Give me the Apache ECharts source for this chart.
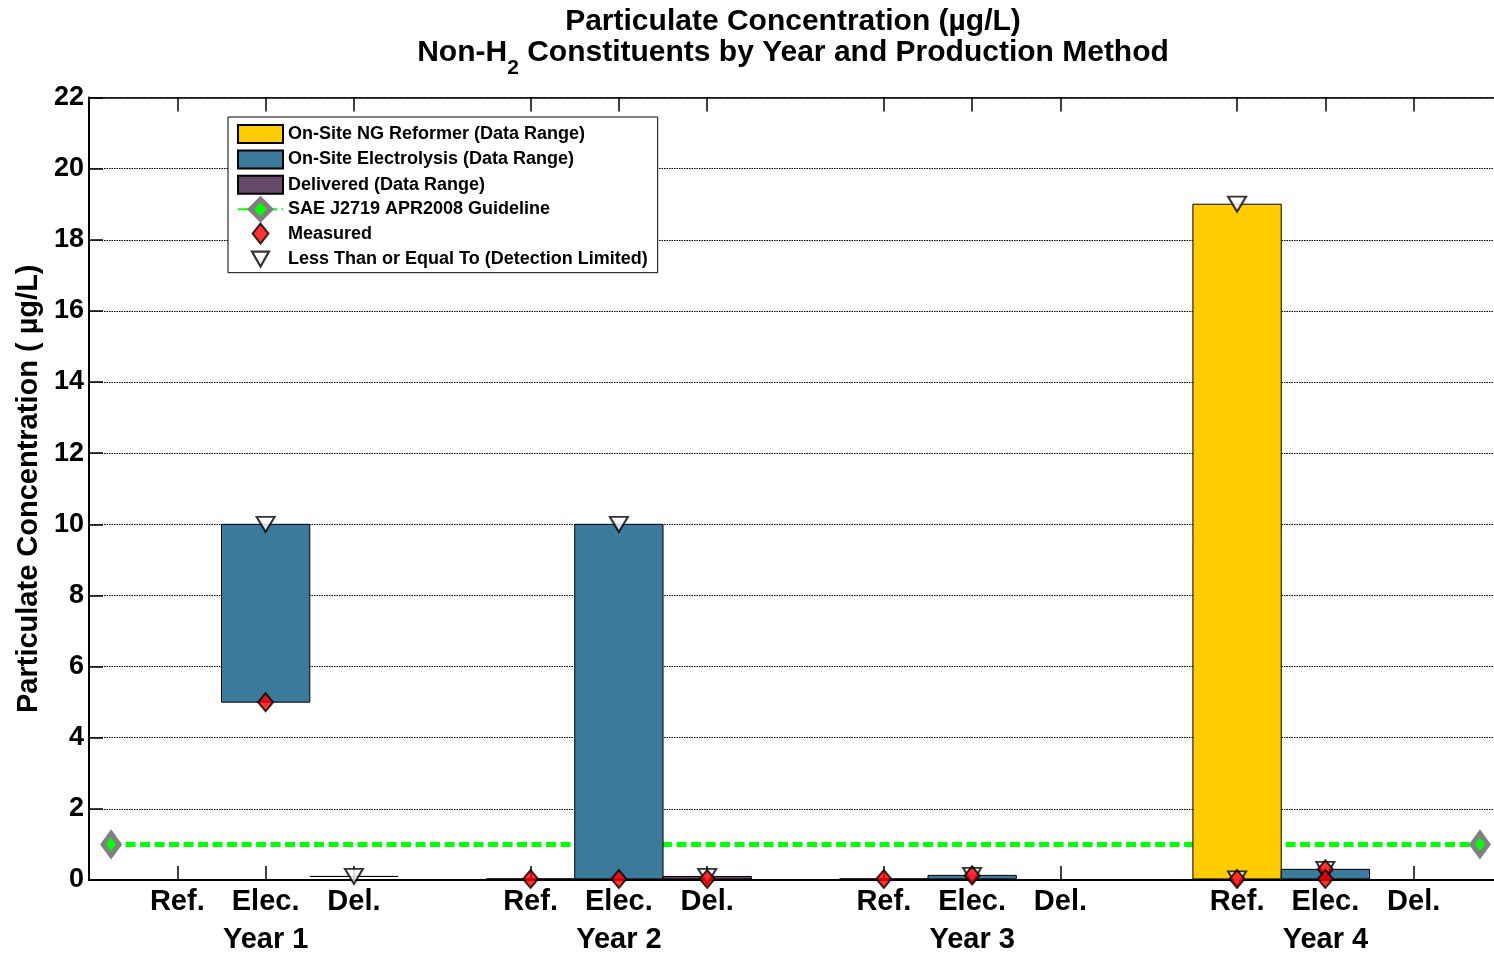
<!DOCTYPE html>
<html>
<head>
<meta charset="utf-8">
<script src="https://cdn.jsdelivr.net/npm/echarts@6/dist/echarts.min.js"></script>
<style>
html,body{margin:0;padding:0;background:#fff;}
#chart{width:1494px;height:957px;}
</style>
</head>
<body>
<div id="chart"></div>
<script>
// ---- data ----
const methodLabels = ['Ref.', 'Elec.', 'Del.'];
const yearLabels = ['Year 1', 'Year 2', 'Year 3', 'Year 4'];
const yMin = 0, yMax = 22, yStep = 2;

// data ranges [low, high] per year (null = no data)
const reformerRange = [null, [0.03, 0.03], [0.03, 0.03], [0.03, 19]];
const electrolysisRange = [[5, 10], [0.03, 10], [0.03, 0.13], [0.03, 0.3]];
const deliveredRange = [[0.1, 0.1], [0.03, 0.1], null, null];

// points: [yearIndex, methodIndex, value]
const measuredPts = [[0, 1, 5], [1, 0, 0.03], [1, 1, 0.03], [1, 2, 0.03], [2, 0, 0.03], [2, 1, 0.13], [3, 0, 0.03], [3, 1, 0.3], [3, 1, 0.03]];
const lessThanPts = [[0, 1, 10], [0, 2, 0.1], [1, 1, 10], [1, 2, 0.1], [2, 1, 0.13], [3, 0, 19], [3, 0, 0.03], [3, 1, 0.3]];

const guidelineValue = 1;
const guidelineSpan = [0.25, 15.75];

const seriesNames = ['On-Site NG Reformer (Data Range)', 'On-Site Electrolysis (Data Range)', 'Delivered (Data Range)',
  'SAE J2719 APR2008 Guideline', 'Measured', 'Less Than or Equal To (Detection Limited)'];

// ---- build ----
const pos = (y, m) => y * 4 + m + 1;
const tickPos = [];
const tickText = {};
yearLabels.forEach((yl, y) => methodLabels.forEach((ml, m) => {
  const p = pos(y, m);
  tickPos.push(p);
  tickText[p] = m === 1 ? ml + '\n' + yl : ml;
}));

function rangeData(arr, m) {
  const out = [];
  arr.forEach((r, y) => { if (r) out.push([pos(y, m), r[0], r[1]]); });
  return out;
}
function ptData(arr) { return arr.map(p => [pos(p[0], p[1]), p[2]]); }

function renderBar(params, api) {
  const x = api.value(0), lo = api.value(1), hi = api.value(2);
  const p1 = api.coord([x - 0.5, hi]);
  const p2 = api.coord([x + 0.5, lo]);
  return {
    type: 'rect',
    shape: { x: p1[0], y: p1[1], width: p2[0] - p1[0], height: p2[1] - p1[1] },
    style: api.style({ stroke: '#000', lineWidth: 1 })
  };
}

const FONT = 'Liberation Sans, Arial, sans-serif';
const colors = ['#FFCC00', '#3B7A9B', '#674A68'];

// legend icon shapes (padded to the legend item box)
const rectIcon = 'path://M0,0M45,25M0,3.5h45v18h-45z';
const diamondIcon = 'path://M0,0M16,25M8,2.5L16,12.5L8,22.5L0,12.5Z';
const triIcon = 'path://M0,0M17,25M0,5L17,5L8.5,20Z';

const chart = echarts.init(document.getElementById('chart'));
chart.setOption({
  animation: false,
  backgroundColor: '#fff',
  textStyle: { fontFamily: FONT },
  title: [
    { text: 'Particulate Concentration (µg/L)', left: 793, top: 7, padding: 0, textAlign: 'center',
      textStyle: { fontFamily: FONT, fontSize: 30, fontWeight: 'bold', color: '#000' } },
    { text: '{b|Non-H}{s|2}{b| Constituents by Year and Production Method}', left: 793, top: 26, padding: 0, textAlign: 'center',
      textStyle: { fontFamily: FONT, fontSize: 30, fontWeight: 'bold', color: '#000',
        rich: {
          b: { fontFamily: FONT, fontSize: 30, fontWeight: 'bold', color: '#000' },
          s: { fontFamily: FONT, fontSize: 21, fontWeight: 'bold', color: '#000', padding: [32, 0, 0, 0] }
        } } }
  ],
  legend: {
    orient: 'vertical', left: 228, top: 117,
    padding: [3.5, 10, 0, 9], itemGap: -1.6, itemWidth: 45, itemHeight: 25,
    borderColor: '#000', borderWidth: 1, backgroundColor: '#fff',
    selectedMode: false, symbolKeepAspect: true,
    textStyle: { fontFamily: FONT, fontSize: 18, fontWeight: 'bold', color: '#000', lineHeight: 20, padding: 0 },
    data: [
      { name: seriesNames[0], icon: rectIcon },
      { name: seriesNames[1], icon: rectIcon },
      { name: seriesNames[2], icon: rectIcon },
      { name: seriesNames[3], itemStyle: { borderWidth: 5 } },
      { name: seriesNames[4], icon: diamondIcon, itemStyle: { borderWidth: 2 } },
      { name: seriesNames[5], icon: triIcon, symbolRotate: 0, itemStyle: { borderWidth: 2.2 } }
    ]
  },
  grid: { left: 89, top: 97.5, width: 1413, height: 782.5, outerBoundsMode: 'none', containLabel: false },
  xAxis: [
    {
      type: 'value', position: 'bottom', min: 0, max: 16,
      axisLine: { show: true, lineStyle: { color: '#000', width: 2 } },
      axisTick: { show: true, inside: true, length: 14, customValues: tickPos, lineStyle: { color: '#000', width: 1.5 } },
      axisLabel: { show: true, customValues: tickPos, margin: 3, formatter: v => tickText[v] || '',
        fontFamily: FONT, fontSize: 29, fontWeight: 'bold', color: '#000', lineHeight: 38 },
      splitLine: { show: false }
    },
    {
      type: 'value', position: 'top', min: 0, max: 16,
      axisLine: { show: true, onZero: false, lineStyle: { color: '#000', width: 1.5 } },
      axisTick: { show: true, inside: true, length: 14, customValues: tickPos, lineStyle: { color: '#000', width: 1.5 } },
      axisLabel: { show: false },
      splitLine: { show: false }
    }
  ],
  yAxis: {
    type: 'value', min: yMin, max: yMax, interval: yStep,
    name: 'Particulate Concentration ( µg/L)', nameLocation: 'middle', nameGap: 46,
    nameTextStyle: { fontFamily: FONT, fontSize: 29, fontWeight: 'bold', color: '#000' },
    axisLine: { show: true, lineStyle: { color: '#000', width: 2 } },
    axisTick: { show: true, inside: true, length: 14, lineStyle: { color: '#000', width: 1.5 } },
    axisLabel: { margin: 5, fontFamily: FONT, fontSize: 27, fontWeight: 'bold', color: '#000' },
    splitLine: { show: true, lineStyle: { color: '#000', width: 1, type: [1.5, 1] } }
  },
  series: [
    {
      name: seriesNames[3], type: 'line', z: 1,
      data: guidelineSpan.map(x => [x, guidelineValue]),
      symbol: 'diamond', symbolSize: [16, 22], showSymbol: true,
      itemStyle: { color: '#00FF00', borderColor: '#808080', borderWidth: 5 },
      lineStyle: { color: '#00FF00', width: 5, type: [10, 4.5] }
    },
    { name: seriesNames[0], type: 'custom', z: 2, renderItem: renderBar, encode: { x: 0, y: [1, 2] },
      itemStyle: { color: colors[0], borderColor: '#000', borderWidth: 1 }, data: rangeData(reformerRange, 0) },
    { name: seriesNames[1], type: 'custom', z: 2, renderItem: renderBar, encode: { x: 0, y: [1, 2] },
      itemStyle: { color: colors[1], borderColor: '#000', borderWidth: 1 }, data: rangeData(electrolysisRange, 1) },
    { name: seriesNames[2], type: 'custom', z: 2, renderItem: renderBar, encode: { x: 0, y: [1, 2] },
      itemStyle: { color: colors[2], borderColor: '#000', borderWidth: 1 }, data: rangeData(deliveredRange, 2) },
    {
      name: seriesNames[5], type: 'scatter', z: 3,
      symbol: 'triangle', symbolRotate: 180, symbolSize: [18, 15],
      itemStyle: { color: '#fff', borderColor: '#000', borderWidth: 2 },
      data: ptData(lessThanPts)
    },
    {
      name: seriesNames[4], type: 'scatter', z: 4,
      symbol: 'diamond', symbolSize: [15, 18],
      itemStyle: { color: '#FF0000', borderColor: '#000', borderWidth: 2 },
      data: ptData(measuredPts)
    }
  ]
});
</script>
</body>
</html>
